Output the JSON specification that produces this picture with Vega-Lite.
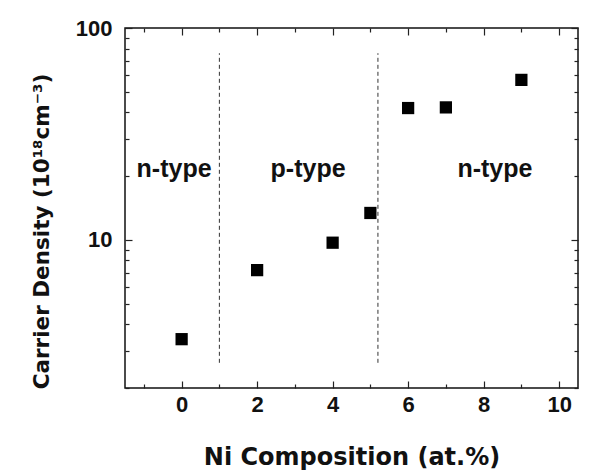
{
  "$schema": "https://vega.github.io/schema/vega-lite/v6.json",
  "width": 453,
  "height": 360,
  "autosize": {"type": "none"},
  "padding": {"left": 125, "top": 28, "right": 14, "bottom": 86},
  "background": "white",
  "config": {
    "view": {"stroke": "#111", "strokeWidth": 1.5},
    "font": "Liberation Sans",
    "axis": {
      "labelFont": "Liberation Sans", "labelFontWeight": "bold", "labelFontSize": 22, "labelColor": "#111",
      "titleFont": "DejaVu Sans", "titleFontWeight": "bold", "titleFontSize": 24, "titleColor": "#111",
      "domain": false, "grid": false, "tickColor": "#222", "tickWidth": 1.2
    }
  },
  "datasets": {
    "points": [
      {"ni": 0, "density": 3.4},
      {"ni": 2, "density": 7.2},
      {"ni": 4, "density": 9.7},
      {"ni": 5, "density": 13.4},
      {"ni": 6, "density": 41.9},
      {"ni": 7, "density": 42.2},
      {"ni": 9, "density": 56.9}
    ],
    "dividers": [
      {"ni": 1, "lo": 2.63, "hi": 76},
      {"ni": 5.2, "lo": 2.63, "hi": 76}
    ],
    "labels": [
      {"ni": -0.2, "density": 21.5, "text": "n-type"},
      {"ni": 3.35, "density": 21.5, "text": "p-type"},
      {"ni": 8.3, "density": 21.5, "text": "n-type"}
    ]
  },
  "layer": [
    {
      "data": {"name": "dividers"},
      "mark": {"type": "rule", "strokeDash": [4, 3], "color": "#333", "strokeWidth": 1},
      "encoding": {
        "x": {"field": "ni", "type": "quantitative", "scale": {"domain": [-1.5, 10.5], "nice": false, "zero": false},
          "axis": {"orient": "bottom", "title": "Ni Composition (at.%)", "values": [-1,0,1,2,3,4,5,6,7,8,9,10],
            "labelExpr": "datum.value % 2 === 0 ? datum.label : ''",
            "tickSize": {"condition": {"test": "datum.value % 2 === 0", "value": -7}, "value": -4},
            "labelPadding": 13, "titleY": 76, "titleBaseline": "alphabetic"}},
        "y": {"field": "lo", "type": "quantitative", "scale": {"type": "log", "domain": [2, 100], "nice": false},
          "axis": {"orient": "left", "title": "Carrier Density (10¹⁸cm⁻³)", "values": [2,3,4,5,6,7,8,9,10,20,30,40,50,60,70,80,90,100],
            "labelExpr": "datum.value === 10 || datum.value === 100 ? datum.label : ''",
            "tickSize": {"condition": {"test": "datum.value === 10 || datum.value === 100", "value": -7}, "value": -4},
            "labelPadding": 20, "titleFontSize": 21.5, "titleX": -77, "titleY": 203, "titleBaseline": "alphabetic"}},
        "y2": {"field": "hi"}
      }
    },
    {
      "data": {"name": "points"},
      "mark": {"type": "point", "shape": "square", "filled": true, "color": "#000", "size": 150, "opacity": 1},
      "encoding": {
        "x": {"field": "ni", "type": "quantitative",
          "axis": {"orient": "top", "title": null, "values": [-1,0,1,2,3,4,5,6,7,8,9,10], "labels": false,
            "tickSize": {"condition": {"test": "datum.value % 2 === 0", "value": -7}, "value": -4}}},
        "y": {"field": "density", "type": "quantitative",
          "axis": {"orient": "right", "title": null, "values": [2,3,4,5,6,7,8,9,10,20,30,40,50,60,70,80,90,100], "labels": false,
            "tickSize": {"condition": {"test": "datum.value === 10 || datum.value === 100", "value": -7}, "value": -4}}}
      }
    },
    {
      "data": {"name": "labels"},
      "mark": {"type": "text", "font": "Liberation Sans", "fontWeight": "bold", "fontSize": 25, "color": "#111"},
      "encoding": {
        "x": {"field": "ni", "type": "quantitative", "axis": null},
        "y": {"field": "density", "type": "quantitative", "axis": null},
        "text": {"field": "text"}
      }
    }
  ],
  "resolve": {"axis": {"x": "independent", "y": "independent"}}
}
